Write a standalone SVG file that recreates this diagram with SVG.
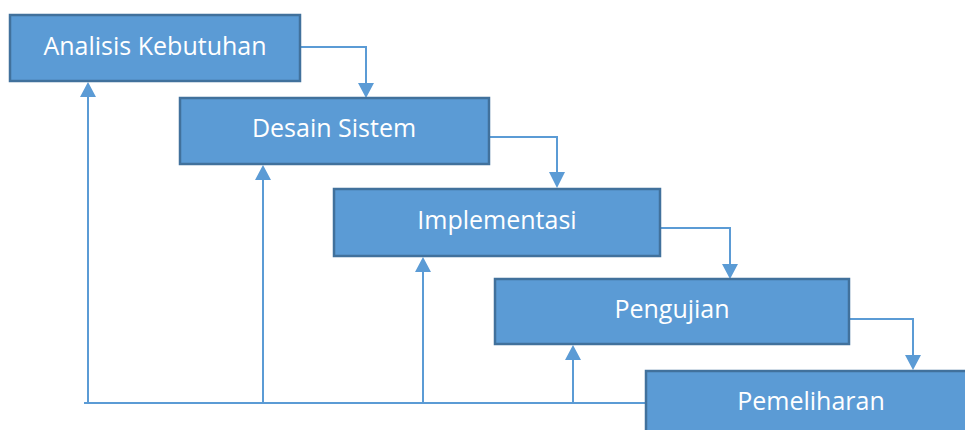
<svg xmlns="http://www.w3.org/2000/svg" width="965" height="430" viewBox="0 0 965 430">
  <style>
    .box { fill: #5B9BD5; stroke: #41719C; stroke-width: 2.5; }
    .lbl { fill: #FFFFFF; font-family: "Open Sans", "Noto Sans", sans-serif; font-size: 25px; text-anchor: middle; }
    .wire { fill: none; stroke: #5B9BD5; stroke-width: 2; }
    .head { fill: #5B9BD5; }
  </style>
  <rect width="965" height="430" fill="#FFFFFF"/>

  <!-- forward and feedback connectors -->
  <g id="connectors">
    <!-- step-down links between phases -->
    <polyline class="wire" points="300,47 366,47 366,85"/>
    <polygon class="head" points="358,83 374,83 366,98"/>
    <polyline class="wire" points="489,137 557,137 557,174"/>
    <polygon class="head" points="549,172 565,172 557,188"/>
    <polyline class="wire" points="660,228 730,228 730,266"/>
    <polygon class="head" points="722,264 738,264 730,279"/>
    <polyline class="wire" points="849,319 913,319 913,357"/>
    <polygon class="head" points="905,355 921,355 913,370"/>

    <!-- return path from maintenance back to earlier phases -->
    <line class="wire" x1="646" y1="403" x2="84" y2="403"/>
    <line class="wire" x1="88" y1="403" x2="88" y2="96"/>
    <polygon class="head" points="80,97 96,97 88,82"/>
    <line class="wire" x1="263" y1="403" x2="263" y2="179"/>
    <polygon class="head" points="255,180 271,180 263,165"/>
    <line class="wire" x1="423" y1="403" x2="423" y2="271"/>
    <polygon class="head" points="415,272 431,272 423,257"/>
    <line class="wire" x1="573" y1="403" x2="573" y2="359"/>
    <polygon class="head" points="565,360 581,360 573,345"/>
  </g>

  <g id="analisis">
    <rect class="box" x="10" y="15" width="290" height="66"/>
    <text class="lbl" x="155" y="55">Analisis Kebutuhan</text>
  </g>
  <g id="desain">
    <rect class="box" x="180" y="98" width="309" height="66"/>
    <text class="lbl" x="334" y="137">Desain Sistem</text>
  </g>
  <g id="implementasi">
    <rect class="box" x="334" y="189" width="326" height="67"/>
    <text class="lbl" x="497" y="229">Implementasi</text>
  </g>
  <g id="pengujian">
    <rect class="box" x="495" y="279" width="354" height="65"/>
    <text class="lbl" x="672" y="318">Pengujian</text>
  </g>
  <g id="pemeliharan">
    <rect class="box" x="646" y="371" width="330" height="70"/>
    <text class="lbl" x="811" y="410">Pemeliharan</text>
  </g>
</svg>
